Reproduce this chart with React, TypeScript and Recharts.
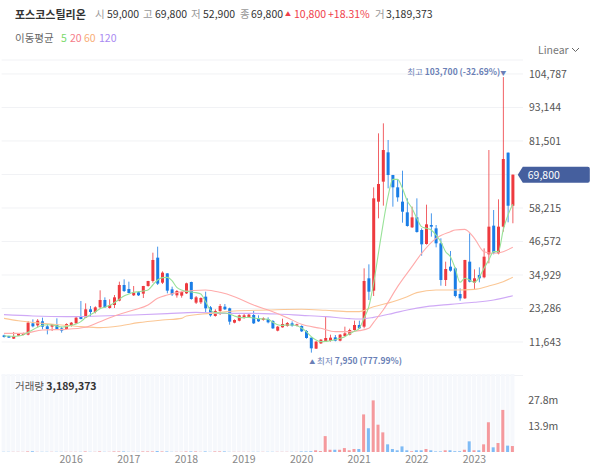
import {
  ComposedChart, Bar, Line, XAxis, YAxis, CartesianGrid, ReferenceDot, Cell,
} from 'recharts';

const FONT = '"Noto Sans CJK KR", "Noto Sans", sans-serif';

const months = [
  '2014-11', '2014-12',
  '2015-01', '2015-02', '2015-03', '2015-04', '2015-05', '2015-06', '2015-07', '2015-08', '2015-09', '2015-10', '2015-11', '2015-12',
  '2016-01', '2016-02', '2016-03', '2016-04', '2016-05', '2016-06', '2016-07', '2016-08', '2016-09', '2016-10', '2016-11', '2016-12',
  '2017-01', '2017-02', '2017-03', '2017-04', '2017-05', '2017-06', '2017-07', '2017-08', '2017-09', '2017-10', '2017-11', '2017-12',
  '2018-01', '2018-02', '2018-03', '2018-04', '2018-05', '2018-06', '2018-07', '2018-08', '2018-09', '2018-10', '2018-11', '2018-12',
  '2019-01', '2019-02', '2019-03', '2019-04', '2019-05', '2019-06', '2019-07', '2019-08', '2019-09', '2019-10', '2019-11', '2019-12',
  '2020-01', '2020-02', '2020-03', '2020-04', '2020-05', '2020-06', '2020-07', '2020-08', '2020-09', '2020-10', '2020-11', '2020-12',
  '2021-01', '2021-02', '2021-03', '2021-04', '2021-05', '2021-06', '2021-07', '2021-08', '2021-09', '2021-10', '2021-11', '2021-12',
  '2022-01', '2022-02', '2022-03', '2022-04', '2022-05', '2022-06', '2022-07', '2022-08', '2022-09', '2022-10', '2022-11', '2022-12',
  '2023-01', '2023-02', '2023-03', '2023-04', '2023-05', '2023-06', '2023-07', '2023-08', '2023-09',
];

const opens = [
  13960, 13720, 12800, 13840, 14070, 14190, 18130, 17430, 18830, 17090, 16970, 17660,
  16390, 16160, 17430, 18130, 20560, 20100, 23000, 22070, 23690, 26240, 23460, 24500,
  26000, 31450, 30060, 27860, 28900, 28440, 31100, 32840, 40950, 32260, 35500, 29940,
  27860, 27740, 28550, 32490, 25310, 25430, 27400, 23690, 20680, 22420, 23920, 23340,
  18360, 19050, 19980, 20210, 21020, 19870, 19290, 19630, 18940, 15580, 16740, 17200,
  18130, 17320, 17200, 15460, 13150, 9330, 11180, 11760, 11990, 13260, 12100, 13720,
  14190, 15810, 17550, 16970, 33770, 29480, 60410, 67360, 77550, 69670, 65390, 60410,
  56700, 51490, 54960, 50560, 45700, 52300, 51140, 45930, 33190, 37820, 37240, 28320,
  26820, 39560, 32260, 34930, 34120, 42110, 52070, 42460, 51720, 77440, 59000,
];
const highs = [
  14190, 13800, 15120, 14600, 14900, 18940, 19520, 19630, 20100, 17780, 17800, 19870,
  16970, 18130, 18590, 20450, 25890, 25080, 24150, 24040, 29600, 27160, 26470, 27970,
  32610, 33420, 32610, 31100, 29250, 31150, 32900, 42680, 44770, 36200, 35550, 30870,
  29710, 29250, 32260, 32610, 27630, 27160, 29130, 24150, 23000, 24850, 24850, 23570,
  19520, 21140, 21370, 21600, 22420, 20910, 20210, 20210, 19290, 17200, 19750, 18590,
  18820, 18010, 17430, 15810, 13260, 11990, 12690, 20560, 14190, 14070, 14420, 16970,
  16280, 19060, 19060, 37240, 38630, 65390, 84150, 87630, 81840, 69700, 68280, 71180,
  61560, 58670, 61560, 51140, 59370, 56350, 52300, 47670, 39560, 43270, 37590, 30290,
  40200, 49400, 36890, 37590, 44190, 78360, 57510, 61220, 103700, 77500, 69800,
];
const lows = [
  13150, 13100, 12690, 13800, 14000, 13960, 16740, 16740, 16040, 14310, 15460, 15810,
  14890, 15810, 16970, 17900, 19520, 19980, 20450, 21600, 23230, 23460, 23230, 23460,
  25770, 29020, 28550, 27630, 27630, 26930, 30870, 32260, 31450, 31800, 28550, 27630,
  27050, 27050, 28320, 26350, 24850, 24850, 21950, 20450, 20450, 21020, 22760, 17660,
  18130, 18820, 19750, 19980, 17900, 18590, 19050, 18130, 16160, 15350, 16620, 16970,
  16970, 17090, 15120, 12800, 7950, 9210, 10950, 11640, 11760, 11870, 11870, 13500,
  13960, 15580, 16160, 16390, 26240, 27630, 54620, 59020, 65040, 58670, 60410, 53110,
  51720, 51260, 49640, 41640, 45470, 48250, 44540, 31220, 31100, 36080, 27170, 26000,
  26590, 32380, 29710, 32380, 33770, 38980, 42110, 42110, 49980, 53230, 52900,
];
const closes = [
  13380, 13150, 13720, 14540, 14770, 18360, 17090, 19050, 16970, 16160, 17780, 16160,
  15580, 17900, 18360, 20100, 19630, 23000, 22070, 23690, 26240, 23690, 24500, 27160,
  31450, 29360, 28670, 28790, 27860, 31100, 32840, 40140, 31910, 35740, 29480, 28200,
  29360, 29020, 32030, 26580, 27160, 26930, 23340, 20910, 22420, 24150, 23000, 18710,
  19290, 20910, 20910, 21140, 18130, 18820, 19870, 18480, 16390, 16970, 17900, 18240,
  17320, 17780, 15350, 13030, 9440, 11760, 12450, 13030, 13150, 12100, 14190, 14650,
  15810, 17550, 16390, 32840, 29130, 61560, 66550, 78360, 69670, 65390, 61910, 56930,
  51950, 54960, 49870, 45580, 52530, 51720, 45930, 33190, 37010, 36430, 27630, 26820,
  40140, 32610, 33770, 33770, 41290, 51720, 42690, 51720, 75230, 59000, 69800,
];

// millions of shares
const volumes = [
  0.1, 0.1, 0.1, 0.1, 0.1, 0.3, 0.4, 0.1, 0.1, 0.1, 0.1, 0.1,
  0.1, 0.1, 0.1, 0.1, 0.1, 0.3, 0.1, 0.1, 0.3, 0.1, 0.1, 0.3,
  0.3, 0.3, 0.1, 0.1, 0.1, 0.3, 0.3, 0.3, 0.5, 0.3, 0.3, 0.1,
  0.1, 0.1, 0.3, 0.3, 0.3, 0.1, 0.3, 0.1, 0.3, 0.3, 0.3, 0.1,
  0.1, 0.1, 0.1, 0.1, 0.1, 0.1, 0.1, 0.1, 0.1, 0.1, 0.1, 0.1,
  0.1, 0.1, 0.3, 0.3, 0.4, 0.9, 0.5, 8.5, 1.2, 1.2, 1.2, 2.1,
  0.9, 1.6, 1.6, 20.1, 12.7, 27.6, 14.6, 10.5, 4.1, 1.6, 0.9, 3.0,
  0.9, 0.4, 0.9, 0.9, 1.6, 0.9, 0.3, 0.3, 0.9, 0.9, 0.4, 0.4,
  1.2, 5.7, 0.9, 0.9, 4.1, 15.9, 2.5, 4.8, 22.5, 3.4, 3.19,
];

const ma5 = [
  13720, 13720, 13610, 13720, 14070, 15000, 15930, 16740, 17430, 17660, 17550, 17200,
  16860, 16970, 17430, 17900, 18710, 20100, 21140, 22070, 23230, 23690, 24380, 25310,
  26470, 27630, 28320, 28900, 29130, 29360, 29710, 31450, 33190, 34000, 34110, 32950,
  30640, 29710, 29250, 29020, 28790, 28320, 25660, 22760, 21840, 21720, 21720, 21370,
  20680, 20210, 20100, 20210, 19980, 19750, 19630, 19520, 18480, 17660, 17430, 17550,
  17550, 17320, 16510, 15230, 13500, 12340, 11760, 11870, 12100, 12450, 12920, 13500,
  14540, 15350, 16390, 19870, 23920, 32030, 42450, 52880, 62140, 68170, 68170, 65040,
  60750, 58090, 54620, 51720, 51140, 50560, 48820, 46510, 43030, 41300, 37240, 32380,
  33770, 33190, 32380, 34120, 37240, 40140, 43030, 43030, 50560, 55780, 59480,
];

const ma20At = [0, 4, 8, 13, 17, 20, 23, 27, 30, 32, 34, 37, 42, 45, 48, 52, 56, 59, 62, 66, 69, 72, 74, 76, 77, 79, 82, 85, 87, 90, 93, 94, 96, 98, 100, 102, 104, 106];
const ma20 = [14650, 14650, 15810, 16040, 16740, 18710, 20680, 22760, 24500, 26820, 27970, 29130, 29710, 28900, 27400, 24500, 22180, 20100, 17780, 16390, 15230, 15230, 15580, 16390, 18480, 22760, 30870, 37820, 42450, 47670, 49980, 50560, 50790, 47670, 43030, 42460, 43030, 44540];
const ma60At = [0, 3, 8, 12, 16, 20, 24, 28, 33, 37, 38, 43, 48, 55, 62, 67, 72, 74, 77, 81, 84, 86, 90, 94, 98, 101, 104, 106];
const ma60 = [19860, 19050, 18130, 17550, 16970, 16620, 17200, 18360, 19290, 19860, 20680, 21600, 22420, 22760, 23000, 22650, 22180, 22180, 23920, 25660, 27400, 28790, 29710, 29710, 29940, 31100, 32610, 34120];
const ma120At = [0, 6, 13, 20, 27, 34, 40, 46, 52, 57, 62, 67, 72, 74, 77, 81, 84, 88, 93, 98, 102, 106];
const ma120 = [21140, 20680, 20450, 20680, 21020, 21490, 21950, 21600, 21600, 21370, 20910, 20450, 19750, 19630, 20210, 21600, 22760, 23920, 24730, 25430, 26240, 27740];

const priceTicks = [11643, 23286, 34929, 46572, 58215, 69858, 81501, 93144, 104787];
const volumeTicks = [13.9, 27.8];
const yearTicks = ['2016-01', '2017-01', '2018-01', '2019-01', '2020-01', '2021-01', '2022-01', '2023-01'];

const RED = '#ee3a3f';
const BLUE = '#1a7de6';
const RED_VOL = '#f5999d';
const BLUE_VOL = '#7fbbf5';

const rows = months.map((date, i) => ({
  date,
  open: opens[i],
  high: highs[i],
  low: lows[i],
  close: closes[i],
  volume: volumes[i],
  ma5: ma5[i],
  ma20: ma20At.includes(i) ? ma20[ma20At.indexOf(i)] : null,
  ma60: ma60At.includes(i) ? ma60[ma60At.indexOf(i)] : null,
  ma120: ma120At.includes(i) ? ma120[ma120At.indexOf(i)] : null,
}));

function Candle(props: any) {
  const { x, y, width, height, payload } = props;
  const top = Math.min(y, y + height);
  const h = Math.abs(height);
  const perUnit = h / (payload.high - payload.low);
  const bodyTop = top + (payload.high - Math.max(payload.open, payload.close)) * perUnit;
  const bodyH = Math.max(Math.abs(payload.close - payload.open) * perUnit, 1);
  const color = payload.close >= payload.open ? RED : BLUE;
  return (
    <g>
      <rect x={x + width / 2 - 0.4} y={top} width={0.8} height={h} fill={color} />
      <rect x={x} y={bodyTop} width={width} height={bodyH} fill={color} />
    </g>
  );
}

function VolumeBar(props: any) {
  const { x, y, width, height, fill } = props;
  return <rect x={x + 0.5} y={y} width={width - 1} height={height} fill={fill} />;
}

function HighLabel({ cx, cy }: any) {
  return (
    <text x={cx + 3} y={cy - 2} textAnchor="end" fontFamily={FONT} fontSize={8.5} fill="#6b7fb6">
      최고 <tspan fontWeight={700}>103,700 (-32.69%)</tspan><tspan fontSize={6}>▼</tspan>
    </text>
  );
}

function LowLabel({ cx, cy }: any) {
  return (
    <text x={cx - 2} y={cy + 11} fontFamily={FONT} fontSize={8.5} fill="#6b7fb6">
      <tspan fontSize={6}>▲</tspan> 최저 <tspan fontWeight={700}>7,950 (777.99%)</tspan>
    </text>
  );
}

function PriceTag({ cx, cy }: any) {
  return (
    <g>
      <path
        d={`M${cx + 5} ${cy} l5 -8 h65 a2 2 0 0 1 2 2 v12 a2 2 0 0 1 -2 2 h-65 z`}
        fill="#455f9e"
      />
      <text x={cx + 15} y={cy + 4} fontFamily={FONT} fontSize={10.5} fill="#fff">69,800</text>
    </g>
  );
}

function Txt({ x, y, color = '#333', bold, size = 10.5, children }: any) {
  return (
    <span
      style={{
        position: 'absolute', left: x, top: y, color, fontSize: size,
        fontWeight: bold ? 700 : 400, lineHeight: '14px', whiteSpace: 'nowrap',
      }}
    >
      {children}
    </span>
  );
}

export default function App() {
  return (
    <div style={{ position: 'absolute', left: 0, top: 0, width: 600, height: 475, background: '#fff', fontFamily: FONT, overflow: 'hidden' }}>
      <div style={{ position: 'absolute', left: 0, top: 0 }}>
        <ComposedChart width={600} height={376} data={rows} margin={{ top: 60, right: 0, bottom: 0.5, left: 1.6 }} barCategoryGap={0}>
          <CartesianGrid horizontal vertical={false} stroke="#f1f2f5" />
          <XAxis dataKey="date" hide padding={{ left: 0, right: 7.8 }} />
          <YAxis
            orientation="right"
            domain={[0, 109636]}
            ticks={priceTicks}
            width={77}
            axisLine={false}
            tickLine={false}
            tickSize={0}
            tickMargin={6}
            tick={{ fontSize: 10.5, fill: '#555', fontFamily: FONT }}
            tickFormatter={(v: number) => (v === 69858 ? '' : v.toLocaleString('en-US'))}
          />
          <Bar dataKey={(d: any) => [d.low, d.high]} barSize={3} shape={<Candle />} isAnimationActive={false} />
          <Line dataKey="ma120" stroke="#cfa9f6" strokeWidth={1.1} dot={false} type="monotone" connectNulls isAnimationActive={false} />
          <Line dataKey="ma60" stroke="#fbc795" strokeWidth={1.1} dot={false} type="monotone" connectNulls isAnimationActive={false} />
          <Line dataKey="ma20" stroke="#ffabab" strokeWidth={1.1} dot={false} type="monotone" connectNulls isAnimationActive={false} />
          <Line dataKey="ma5" stroke="#98e298" strokeWidth={1.1} dot={false} type="monotone" isAnimationActive={false} />
          <ReferenceDot x="2023-07" y={103700} shape={<HighLabel />} />
          <ReferenceDot x="2020-03" y={7950} shape={<LowLabel />} />
          <ReferenceDot x="2023-09" y={69800} shape={<PriceTag />} />
        </ComposedChart>
      </div>

      <div style={{ position: 'absolute', left: 0, top: 374 }}>
        <ComposedChart width={600} height={100} data={rows} margin={{ top: 0, right: 0, bottom: 0, left: 1.6 }} barCategoryGap={0}>
          <XAxis
            dataKey="date"
            ticks={yearTicks}
            height={22}
            axisLine={false}
            tickLine={false}
            tickSize={0}
            tickMargin={4}
            interval={0}
            tick={{ fontSize: 10.5, fill: '#888', fontFamily: FONT }}
            tickFormatter={(v: string) => v.slice(0, 4)}
          />
          <YAxis
            orientation="right"
            domain={[0, 41.7]}
            ticks={volumeTicks}
            width={84.8}
            axisLine={false}
            tickLine={false}
            tickSize={0}
            tickMargin={13}
            tick={{ fontSize: 10.5, fill: '#555', fontFamily: FONT }}
            tickFormatter={(v: number) => `${v}m`}
          />
          <Bar dataKey="volume" barSize={4} background={{ fill: '#f6f8fc' }} shape={<VolumeBar />} isAnimationActive={false}>
            {rows.map((r) => (
              <Cell key={r.date} fill={r.close >= r.open ? RED_VOL : BLUE_VOL} />
            ))}
          </Bar>
        </ComposedChart>
      </div>

      <Txt x={15} y={7} bold size={11}>포스코스틸리온</Txt>
      <Txt x={95} y={7} color="#999">시</Txt>
      <Txt x={107} y={7}>59,000</Txt>
      <Txt x={143} y={7} color="#999">고</Txt>
      <Txt x={155} y={7}>69,800</Txt>
      <Txt x={191} y={7} color="#999">저</Txt>
      <Txt x={203} y={7}>52,900</Txt>
      <Txt x={240} y={7} color="#999">종</Txt>
      <Txt x={251} y={7}>69,800</Txt>
      <Txt x={285} y={7} color="#f0404a" size={6}>▲</Txt>
      <Txt x={294} y={7} color="#f0404a">10,800</Txt>
      <Txt x={328} y={7} color="#f0404a">+18.31%</Txt>
      <Txt x={375} y={7} color="#999">거</Txt>
      <Txt x={386} y={7}>3,189,373</Txt>

      <Txt x={15} y={31} color="#666">이동평균</Txt>
      <Txt x={61} y={31} color="#7ada6c">5</Txt>
      <Txt x={70} y={31} color="#f57c8a">20</Txt>
      <Txt x={84} y={31} color="#f8ad76">60</Txt>
      <Txt x={99} y={31} color="#a98af2">120</Txt>

      <Txt x={538} y={43} color="#777">Linear</Txt>
      <svg style={{ position: 'absolute', left: 571, top: 47 }} width={9} height={6}>
        <path d="M1 1 L4.5 4.5 L8 1" fill="none" stroke="#666" strokeWidth={1} />
      </svg>

      <Txt x={15} y={379} color="#555">거래량 <b style={{ color: '#333' }}>3,189,373</b></Txt>
    </div>
  );
}
